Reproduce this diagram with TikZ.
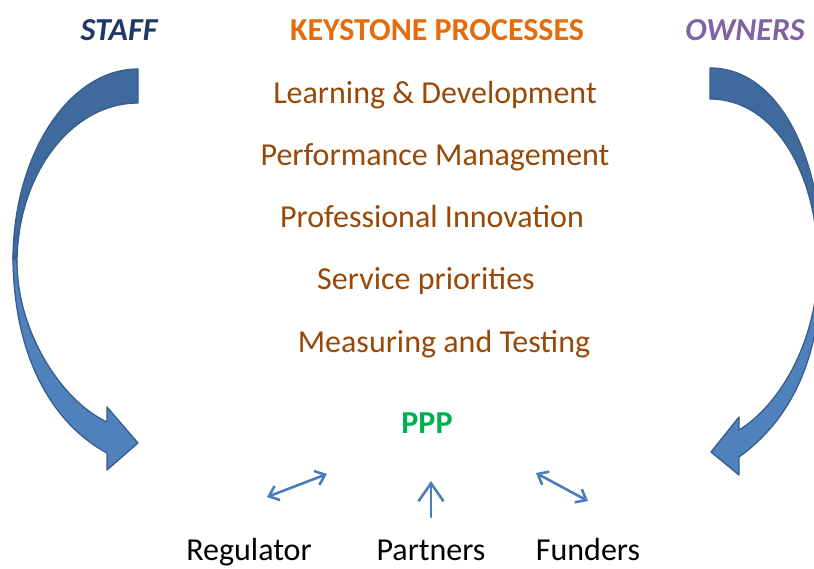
\documentclass[tikz,border=0pt]{standalone}
\usepackage{fontspec}
\setmainfont{Carlito}
\usetikzlibrary{arrows.meta}
\definecolor{staffblue}{HTML}{1F3864}
\definecolor{keyorange}{HTML}{E46C0A}
\definecolor{procbrown}{HTML}{984807}
\definecolor{ownpurple}{HTML}{8064A2}
\definecolor{pppgreen}{HTML}{00B050}
\definecolor{arrowfront}{HTML}{4F81BD}
\definecolor{arrowback}{HTML}{3E6A9E}
\definecolor{arrowedge}{HTML}{385D8A}
\definecolor{linkblue}{HTML}{4A7EBB}
\tikzset{
  txt/.style={anchor=base, inner sep=0pt, font=\fontsize{32}{38}\selectfont},
  heading/.style={txt, font=\fontsize{32}{38}\selectfont\bfseries},
  procline/.style={txt, text=procbrown},
  bandback/.style={fill=arrowback, draw=arrowedge, line width=1.3pt, line join=round},
  bandfront/.style={fill=arrowfront, draw=arrowedge, line width=1.3pt, line join=round},
  link/.style={draw=linkblue, line width=2.6pt, line cap=round},
  twoway/.style={link, {Straight Barb[length=9pt,width=15pt]}-{Straight Barb[length=9pt,width=15pt]}},
  oneway/.style={link, -{Straight Barb[length=18pt,width=25pt]}}
}
\begin{document}
\begin{tikzpicture}[x=1pt,y=-1pt]
\useasboundingbox (0,0) rectangle (814,568);

% headings
\node[heading, text=staffblue, font=\fontsize{32}{38}\selectfont\bfseries\itshape] (staff) at (119,40) {STAFF};
\node[heading, text=keyorange] (keystone) at (437,40) {KEYSTONE PROCESSES};
\node[heading, text=ownpurple, font=\fontsize{32}{38}\selectfont\bfseries\itshape] (owners) at (745,40) {OWNERS};

% keystone processes
\node[procline] (learn) at (435,103) {Learning \& Development};
\node[procline] (perf)  at (435,165) {Performance Management};
\node[procline] (innov) at (432,227) {Professional Innovation};
\node[procline] (serv)  at (426,289) {Service priorities};
\node[procline] (meas)  at (444,352) {Measuring and Testing};

% partnership
\node[heading, text=pppgreen] (ppp) at (427,433) {PPP};
\node[txt] (reg)   at (249,560) {Regulator};
\node[txt] (part)  at (431,560) {Partners};
\node[txt] (fund)  at (588,560) {Funders};

% links under PPP
\coordinate (regA) at (267,497);
\coordinate (regB) at (327,474);
\coordinate (partA) at (431,517);
\coordinate (partB) at (431,481);
\coordinate (fundA) at (536,473);
\coordinate (fundB) at (588,501);
\draw[twoway] (regA) -- (regB);
\draw[oneway] (partA) -- (partB);
\draw[twoway] (fundA) -- (fundB);

% left curved arrow (staff)
\path[bandback] (138,69) .. controls (69,69) and (13,155) .. (13,260)
  -- (17,263) .. controls (17,175) and (71,103) .. (138,103) -- cycle;
\path[bandfront] (13,255) .. controls (13,360) and (55,425) .. (107,453)
  -- (107,470) -- (138,443) -- (107,407) -- (107,422)
  .. controls (60,400) and (17,330) .. (17,262) -- cycle;

% right curved arrow (owners)
\path[bandback] (710,68) .. controls (780,68) and (822,160) .. (822,262)
  -- (818,264) .. controls (818,175) and (775,99) .. (710,99) -- cycle;
\path[bandfront] (822,258) .. controls (822,360) and (790,420) .. (739,457)
  -- (739,475) -- (711,452) -- (739,417) -- (739,430)
  .. controls (780,405) and (818,340) .. (818,264) -- cycle;
\end{tikzpicture}
\end{document}
